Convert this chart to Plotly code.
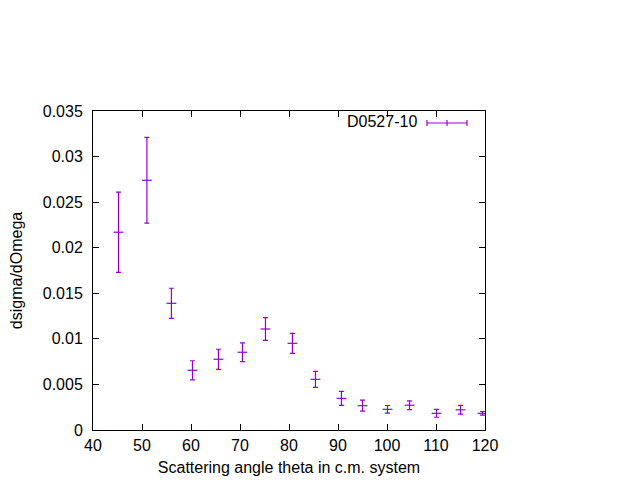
import plotly.graph_objects as go

theta = [45.2, 51.0, 56.0, 60.3, 65.6, 70.5, 75.2, 80.7, 85.4, 90.7, 95.0, 100.1, 104.6, 110.1, 115.0, 119.5]
dsigma = [0.0217, 0.0274, 0.0139, 0.00655, 0.00776, 0.00853, 0.01108, 0.00951, 0.00556, 0.00347, 0.00267, 0.00227, 0.00272, 0.00183, 0.00222, 0.00183]
err = [0.0044, 0.0047, 0.00165, 0.00105, 0.0011, 0.00102, 0.00125, 0.0011, 0.00088, 0.00077, 0.0006, 0.00042, 0.00048, 0.00043, 0.00048, 0.0002]

xticks = [40, 50, 60, 70, 80, 90, 100, 110, 120]
yticks = [0, 0.005, 0.01, 0.015, 0.02, 0.025, 0.03, 0.035]
ylabels = ["0", "0.005", "0.01", "0.015", "0.02", "0.025", "0.03", "0.035"]

color = "#9400D3"
font = "Liberation Sans, Arial, sans-serif"

fig = go.Figure()
fig.add_trace(go.Scatter(
    x=theta, y=dsigma, mode="markers", name="D0527-10", showlegend=False,
    marker=dict(symbol="line-ew", size=7, color=color, line=dict(color=color, width=1.2)),
    error_y=dict(type="data", array=err, visible=True, color=color, thickness=1.2, width=2.5),
    cliponaxis=True,
))

# legend drawn as sample
fig.add_annotation(xref="paper", yref="paper", x=(419-93)/392, y=(430-122)/319,
                   text="D0527-10", showarrow=False, xanchor="right", yanchor="middle",
                   font=dict(family=font, size=16, color="black"))
lx0, lx1, ly = (427-93)/392, (467-93)/392, (430-123)/319
fig.add_shape(type="line", xref="paper", yref="paper", x0=lx0, x1=lx1, y0=ly, y1=ly,
              line=dict(color=color, width=1.2))
for xx in (lx0, lx1, (lx0+lx1)/2):
    fig.add_shape(type="line", xref="paper", yref="paper", x0=xx, x1=xx,
                  y0=ly-3/319, y1=ly+3/319, line=dict(color=color, width=1.2))

axis_common = dict(showgrid=False, zeroline=False, ticks="inside", ticklen=6, tickwidth=1,
                   tickcolor="black", showline=True, linecolor="black", linewidth=1,
                   mirror="ticks", tickfont=dict(family=font, size=16, color="black"))

fig.update_xaxes(range=[40, 120], tickvals=xticks, ticktext=[str(v) for v in xticks],
                 ticklabelstandoff=1,
                 title=dict(text="Scattering angle theta in c.m. system", font=dict(family=font, size=16, color="black"), standoff=8),
                 **axis_common)
fig.update_yaxes(range=[0, 0.035], tickvals=yticks, ticktext=ylabels,
                 ticklabelstandoff=6,
                 title=dict(text="dsigma/dOmega", font=dict(family=font, size=16, color="black"), standoff=28),
                 **axis_common)

fig.update_layout(width=640, height=480, margin=dict(l=85, r=163, t=103, b=58, autoexpand=False),
                  paper_bgcolor="white", plot_bgcolor="white", showlegend=False)

fig.write_html("out.html")
